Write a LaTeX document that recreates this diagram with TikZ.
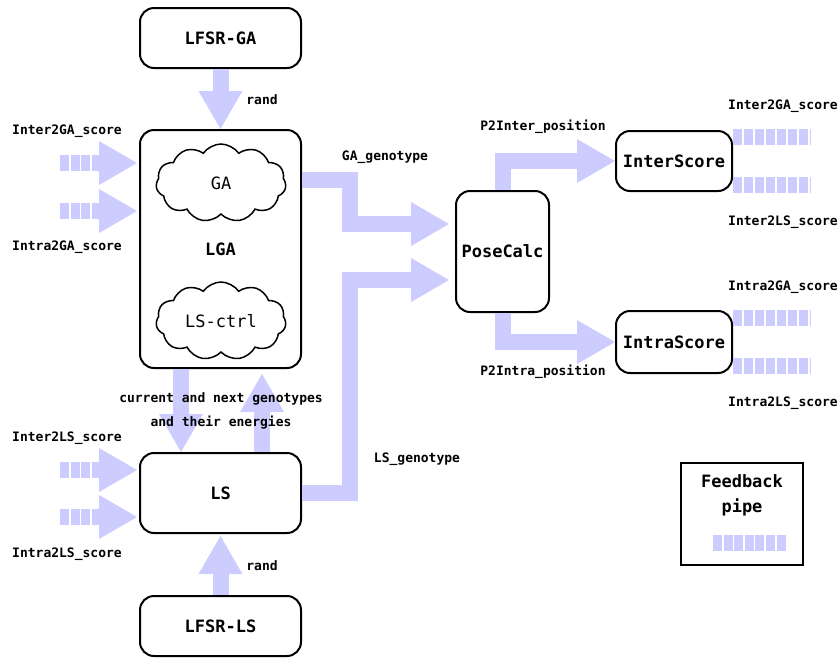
\documentclass[tikz,border=0pt]{standalone}
\usepackage{fontspec}
\setmonofont{DejaVu Sans Mono}
\usetikzlibrary{arrows.meta,shapes.symbols}
\definecolor{pipe}{HTML}{CCCCFF}

\begin{document}
\begin{tikzpicture}[x=1pt,y=-1pt,
  unit/.style={draw,fill=white,line width=2pt,rounded corners=14pt,inner sep=0pt,
    font=\fontsize{17}{20}\selectfont\ttfamily\bfseries},
  blob/.style={cloud,cloud puffs=11,cloud puff arc=110,cloud ignores aspect,draw,fill=white,
    line width=1.5pt,inner sep=0pt,minimum width=130pt,minimum height=78pt,
    font=\fontsize{17}{20}\selectfont\ttfamily},
  lbl/.style={inner sep=0pt,font=\fontsize{13}{15}\selectfont\ttfamily\bfseries},
  big/.style={inner sep=0pt,font=\fontsize{17}{20}\selectfont\ttfamily\bfseries},
  head/.style={-{Triangle[width=44pt,length=38pt,line width=0pt]}},
  flow/.style={pipe,line width=16pt,line join=miter,line cap=butt,head},
  feed/.style={pipe,line width=16pt,line cap=butt,dash pattern=on 9pt off 1.7pt},
  feedin/.style={feed,head},
]
\useasboundingbox (0,0) rectangle (840,657);

% processing units
\node[unit,minimum width=161pt,minimum height=60pt] (lfsrga) at (220.5,38) {LFSR-GA};
\node[unit,minimum width=161pt,minimum height=238pt] (lga) at (220.5,249) {LGA};
\node[blob] (ga) at (221,183) {GA};
\node[blob] (lsctrl) at (221,321) {LS-ctrl};
\node[unit,minimum width=161pt,minimum height=80pt] (ls) at (220.5,493) {LS};
\node[unit,minimum width=161pt,minimum height=60pt] (lfsrls) at (220.5,626) {LFSR-LS};
\node[unit,minimum width=93pt,minimum height=121pt] (pose) at (502.5,251.5) {PoseCalc};
\node[unit,minimum width=116pt,minimum height=60pt] (inter) at (674,161) {InterScore};
\node[unit,minimum width=116pt,minimum height=62pt] (intra) at (674,342) {IntraScore};

% legend box
\node[draw,line width=2.5pt,minimum width=122pt,minimum height=102pt,inner sep=0pt] (legend) at (742,514) {};

% random number streams
\draw[flow] (lfsrga.south) -- (lga.north);
\draw[flow,shorten >=2pt] (lfsrls.north) -- (ls.south);

% genotypes towards the pose calculation
\draw[flow,shorten >=6pt] (lga.east |- 0,180) -- (350,180) -- (350,224) -- (pose.west |- 0,224);
\draw[flow,shorten >=6pt] (ls.east |- 0,493) -- (350,493) -- (350,280) -- (pose.west |- 0,280);

% positions towards the scoring units
\draw[flow] (503,0 |- pose.north) -- (503,161) -- (inter.west);
\draw[flow] (503,0 |- pose.south) -- (503,342) -- (intra.west);

% exchange between LGA and LS
\draw[flow] (181,0 |- lga.south) -- (181,0 |- ls.north);
\draw[flow,shorten >=5pt] (262,0 |- ls.north) -- (262,0 |- lga.south);

% feedback inputs
\coordinate (fa) at (60,163);
\coordinate (fb) at (60,211);
\coordinate (fc) at (60,470);
\coordinate (fd) at (60,517);
\draw[feedin,shorten >=2pt] (fa) -- (lga.west |- fa);
\draw[feedin,shorten >=2pt] (fb) -- (lga.west |- fb);
\draw[feedin,shorten >=2pt] (fc) -- (ls.west |- fc);
\draw[feedin,shorten >=2pt] (fd) -- (ls.west |- fd);

% feedback outputs
\coordinate (oa) at (811,137);
\coordinate (ob) at (811,185);
\coordinate (oc) at (811,318);
\coordinate (od) at (811,366);
\draw[feed,dash pattern=on 9pt off 2pt] (inter.east |- oa) -- (oa);
\draw[feed,dash pattern=on 9pt off 2pt] (inter.east |- ob) -- (ob);
\draw[feed,dash pattern=on 9pt off 2pt] (intra.east |- oc) -- (oc);
\draw[feed,dash pattern=on 9pt off 2pt] (intra.east |- od) -- (od);

% legend sample
\coordinate (pa) at (713,543);
\coordinate (pb) at (787,543);
\draw[feed,dash pattern=on 9pt off 1.6pt] (pa) -- (pb);
\node[big] at (742,481) {Feedback};
\node[big] at (742,507) {pipe};

% labels
\node[lbl] at (262,100) {rand};
\node[lbl] at (262,566) {rand};
\node[lbl] at (67,131) {Inter2GA\_score};
\node[lbl] at (67,247) {Intra2GA\_score};
\node[lbl] at (67,438) {Inter2LS\_score};
\node[lbl] at (67,554) {Intra2LS\_score};
\node[lbl] at (783,106) {Inter2GA\_score};
\node[lbl] at (783,222) {Inter2LS\_score};
\node[lbl] at (783,287) {Intra2GA\_score};
\node[lbl] at (783,403) {Intra2LS\_score};
\node[lbl] at (385,157) {GA\_genotype};
\node[lbl] at (417,459) {LS\_genotype};
\node[lbl] at (543,127) {P2Inter\_position};
\node[lbl] at (543,372) {P2Intra\_position};
\node[lbl] at (221,399) {current and next genotypes};
\node[lbl] at (221,423) {and their energies};
\end{tikzpicture}
\end{document}
